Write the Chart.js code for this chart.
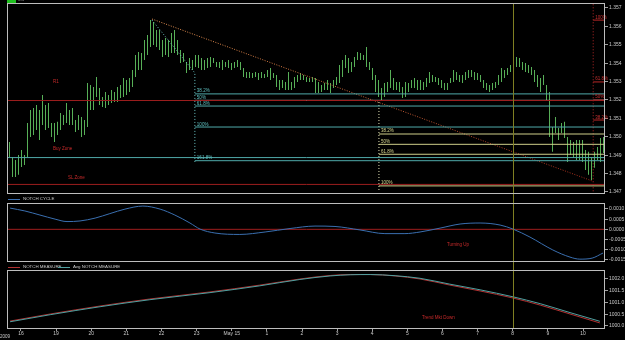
<!DOCTYPE html>
<html><head><meta charset="utf-8">
<script src="https://cdn.jsdelivr.net/npm/chart.js@4.4.0/dist/chart.umd.min.js"></script>
<style>
html,body{margin:0;padding:0;background:#000;}
#wrap{position:relative;width:625px;height:340px;overflow:hidden;background:#000;font-family:"Liberation Sans",Arial,sans-serif;}
canvas{position:absolute;left:0;}
.t{position:absolute;white-space:nowrap;line-height:1;}
.lg{font-size:4.4px;color:#c8c8c8;}
.rd{font-size:4.5px;color:#c82a2a;}
.sw{position:absolute;height:1px;width:12px;}
</style></head><body>
<div id="wrap">
<canvas id="c1" width="625" height="196" style="top:0;width:625px;height:196px"></canvas>
<canvas id="c2" width="625" height="70" style="top:196px;width:625px;height:70px"></canvas>
<canvas id="c3" width="625" height="74" style="top:266px;width:625px;height:74px"></canvas>
<div style="position:absolute;left:7px;top:0;width:9px;height:3px;background:#1fc01f"></div>
<div class="t lg" style="left:18px;top:-2px;color:#909090">M5</div>
<div class="t rd" style="left:53px;top:80px">R1</div>
<div class="t rd" style="left:53px;top:146.5px">Buy Zone</div>
<div class="t rd" style="left:68px;top:175.5px">SL Zone</div>
<div class="sw" style="left:8px;top:199px;background:#3a6fb0"></div>
<div class="t lg" style="left:23px;top:197px">NOTCH CYCLE</div>
<div class="t rd" style="left:447px;top:243px">Turning Up</div>
<div class="sw" style="left:8px;top:267px;background:#b03030"></div>
<div class="t lg" style="left:23px;top:265px">NOTCH MEASURE</div>
<div class="sw" style="left:58px;top:267px;background:#4fa0a0"></div>
<div class="t lg" style="left:73px;top:265px">Avg NOTCH MEASURE</div>
<div class="t rd" style="left:422px;top:315.5px">Trend Mkt Down</div>
<div class="t lg" style="left:0;top:335px;font-size:4.5px">2009</div>
</div>
<script>
// ---------- DATA ----------
const hourLabels = ["16","19","20","21","22","23","May 15","1","2","3","4","5","6","7","8","9","10"];
const priceTicks = [1.357,1.356,1.355,1.354,1.353,1.352,1.351,1.350,1.349,1.348,1.347];
const cycleTicks = [0.0010,0.0005,0.0000,-0.0005,-0.0010,-0.0015];
const measureTicks = [1002.0,1001.5,1001.0,1000.5,1000.0];

const barStartHour = -0.32740;
const barStepHour = 0.0854093;
const highs = [
1.34972,1.34890,1.34874,1.34901,1.34928,1.34901,1.35075,1.35146,1.35157,1.35173,
1.35146,1.35227,1.35173,1.35184,1.35075,1.35075,1.35081,1.35129,1.35119,1.35184,
1.35146,1.35157,1.35091,1.35119,1.35108,1.35091,1.35292,1.35281,1.35271,1.35325,
1.35265,1.35216,1.35243,1.35227,1.35254,1.35243,1.35271,1.35281,1.35319,1.35309,
1.35319,1.35363,1.35444,1.35461,1.35455,1.35526,1.35553,1.35634,1.35624,1.35580,
1.35580,1.35526,1.35537,1.35526,1.35564,1.35580,1.35526,1.35472,1.35455,1.35406,
1.35428,1.35417,1.35444,1.35444,1.35428,1.35417,1.35428,1.35433,1.35428,1.35406,
1.35406,1.35417,1.35406,1.35417,1.35401,1.35406,1.35417,1.35406,1.35374,1.35352,
1.35352,1.35347,1.35352,1.35347,1.35352,1.35341,1.35363,1.35374,1.35347,1.35336,
1.35309,1.35309,1.35298,1.35352,1.35298,1.35325,1.35336,1.35347,1.35336,1.35325,
1.35319,1.35325,1.35319,1.35298,1.35281,1.35292,1.35309,1.35292,1.35309,1.35325,
1.35390,1.35417,1.35444,1.35428,1.35406,1.35433,1.35461,1.35455,1.35444,1.35488,
1.35406,1.35374,1.35336,1.35309,1.35265,1.35292,1.35298,1.35363,1.35319,1.35298,
1.35298,1.35271,1.35298,1.35292,1.35309,1.35319,1.35309,1.35309,1.35298,1.35319,
1.35352,1.35336,1.35325,1.35319,1.35309,1.35292,1.35292,1.35319,1.35363,1.35352,
1.35336,1.35336,1.35352,1.35363,1.35363,1.35352,1.35347,1.35336,1.35309,1.35292,
1.35281,1.35292,1.35298,1.35336,1.35374,1.35363,1.35374,1.35390,1.35406,1.35433,
1.35428,1.35406,1.35401,1.35390,1.35379,1.35363,1.35336,1.35319,1.35336,1.35281,
1.35243,1.35053,1.35108,1.35048,1.35075,1.35081,1.34999,1.34983,1.34972,1.34983,
1.34983,1.34983,1.34928,1.34918,1.34890,1.34918,1.34945,1.34994,1.34999];
const lows = [
1.34890,1.34782,1.34782,1.34793,1.34836,1.34847,1.34890,1.34999,1.35010,1.35037,
1.34983,1.35064,1.35037,1.35048,1.34999,1.34972,1.35010,1.35037,1.35064,1.35075,
1.35064,1.35064,1.35026,1.35037,1.34999,1.35010,1.35053,1.35146,1.35146,1.35216,
1.35173,1.35162,1.35157,1.35173,1.35184,1.35189,1.35189,1.35211,1.35216,1.35227,
1.35243,1.35271,1.35325,1.35363,1.35363,1.35417,1.35444,1.35488,1.35499,1.35488,
1.35472,1.35433,1.35444,1.35433,1.35455,1.35455,1.35444,1.35401,1.35406,1.35347,
1.35363,1.35363,1.35379,1.35374,1.35363,1.35363,1.35374,1.35379,1.35401,1.35379,
1.35374,1.35363,1.35379,1.35374,1.35363,1.35374,1.35379,1.35363,1.35325,1.35319,
1.35319,1.35319,1.35325,1.35309,1.35319,1.35319,1.35325,1.35309,1.35319,1.35271,
1.35254,1.35265,1.35254,1.35254,1.35254,1.35265,1.35298,1.35309,1.35309,1.35298,
1.35298,1.35298,1.35238,1.35238,1.35243,1.35254,1.35254,1.35238,1.35265,1.35281,
1.35292,1.35325,1.35374,1.35347,1.35352,1.35379,1.35417,1.35417,1.35417,1.35379,
1.35363,1.35309,1.35243,1.35216,1.35200,1.35216,1.35243,1.35265,1.35254,1.35254,
1.35243,1.35211,1.35216,1.35243,1.35265,1.35265,1.35254,1.35254,1.35254,1.35271,
1.35292,1.35298,1.35298,1.35281,1.35265,1.35254,1.35254,1.35292,1.35298,1.35309,
1.35298,1.35292,1.35309,1.35319,1.35325,1.35309,1.35309,1.35298,1.35265,1.35254,
1.35243,1.35254,1.35265,1.35281,1.35298,1.35319,1.35336,1.35352,1.35352,1.35379,
1.35379,1.35363,1.35352,1.35347,1.35336,1.35298,1.35271,1.35243,1.35281,1.35200,
1.34999,1.34918,1.35021,1.34983,1.35021,1.34994,1.34863,1.34901,1.34885,1.34874,
1.34874,1.34863,1.34820,1.34793,1.34765,1.34831,1.34874,1.34863,1.34912];

const zoneLevels = [1.35197, 1.34887, 1.34741];           // R1 line, buy line, stop line
const fib1Levels = [1.35233, 1.35198, 1.35167, 1.35053, 1.34870];
const fib1Labels = ["38.2%","50%","61.8%","100%","161.8%"];
const fib1StartHour = 4.95;
const fib2Levels = [1.35015, 1.34959, 1.34905, 1.34733];
const fib2Labels = ["38.2%","50%","61.8%","100%"];
const fib2StartHour = 10.19;
const fib3Levels = [1.35634, 1.35298, 1.35200, 1.35091];
const fib3Labels = ["100%","61.8%","50%","38.2%"];
const fib3StartHour = 16.29;
const trendHours = [3.73, 16.26];
const trendPrices = [1.35640, 1.34760];
const fib1AnchorHours = [3.73, 4.95, 4.95];
const fib1AnchorPrices = [1.35634, 1.35347, 1.34863];
const fib2AnchorPrices = [1.35189, 1.34700];
const markerHour = 14;

const cycleHours = [-0.31,0.11,0.54,0.97,1.31,1.68,2.11,2.53,2.96,3.47,3.96,4.38,4.81,5.10,5.52,6.23,6.95,7.66,8.37,8.94,9.65,10.36,10.93,11.36,11.93,12.50,13.07,13.64,14.01,14.49,15.14,15.63,15.91,16.26,16.57];
const cycleValues = [0.00104,0.00090,0.00070,0.00050,0.00038,0.00041,0.00055,0.00077,0.00099,0.00114,0.00099,0.00070,0.00031,0.00001,-0.00018,-0.00025,-0.00013,0.00004,0.00016,0.00014,-0.00003,-0.00021,-0.00021,-0.00013,0.00006,0.00026,0.00031,0.00021,0.00001,-0.00038,-0.00101,-0.00136,-0.00146,-0.00141,-0.00116];

const measureHours = [-0.31,0.83,2.25,3.67,5.38,6.80,7.94,8.80,9.37,9.94,10.65,11.36,12.21,13.07,14.01,14.78,15.63,16.48];
const measureValues = [1000.21,1000.51,1000.85,1001.15,1001.45,1001.74,1002.00,1002.15,1002.19,1002.19,1002.13,1002.00,1001.74,1001.49,1001.19,1000.89,1000.51,1000.13];
const avgMeasureValues = [1000.18,1000.48,1000.82,1001.12,1001.42,1001.71,1001.98,1002.13,1002.18,1002.19,1002.14,1002.03,1001.78,1001.54,1001.24,1000.95,1000.57,1000.20];

// ---------- CHART SETUP ----------
const X_MIN = -0.37, X_MAX = 16.626;
const FONT = {size: 5, family: '"Liberation Sans", Arial, sans-serif'};

function yAxis(ticks, fmt, min, max) {
  return {
    position: 'right', min, max,
    afterBuildTicks: ax => { ax.ticks = ticks.map(v => ({value: v})); },
    afterFit: ax => { ax.width = 20; ax.paddingTop = 0; ax.paddingBottom = 0; },
    ticks: {color: '#c8c8c8', font: FONT, padding: 1, autoSkip: false, callback: v => fmt(v)},
    grid: {display: true, drawOnChartArea: false, tickLength: 3, color: '#a0a0a0'},
    border: {display: false}
  };
}
function hiddenX() {
  return {type: 'linear', min: X_MIN, max: X_MAX, display: false, offset: false, grid: {offset: false}};
}
function seg(xs, ys, color, dash, width) {
  return {type: 'line', data: xs.map((x, i) => ({x, y: ys[i]})), borderColor: color,
    borderWidth: width || 1, borderDash: dash || [], pointRadius: 0, fill: false, tension: 0, order: 1};
}

const framePlugin = {
  id: 'frame',
  afterDraw(chart) {
    const a = chart.chartArea, c = chart.ctx;
    c.save(); c.strokeStyle = '#bdbdbd'; c.lineWidth = 1;
    c.strokeRect(Math.round(a.left) - 0.5, Math.round(a.top) + 0.5, Math.round(a.right - a.left), Math.round(a.bottom - a.top) - 1);
    c.restore();
  }
};
function markerPlugin(fromTop, toBottom) {
  return {
    id: 'marker',
    afterDatasetsDraw(chart) {
      const x = Math.round(chart.scales.x.getPixelForValue(markerHour)) + 0.5;
      const c = chart.ctx, a = chart.chartArea;
      c.save(); c.strokeStyle = '#7f7f22'; c.lineWidth = 1;
      c.beginPath(); c.moveTo(x, fromTop ? 0 : a.top); c.lineTo(x, toBottom ? chart.height : a.bottom); c.stroke();
      c.restore();
    }
  };
}
const fibLabelPlugin = {
  id: 'fibLabels',
  afterDatasetsDraw(chart) {
    const c = chart.ctx, xs = chart.scales.x, ys = chart.scales.y;
    c.save(); c.font = '4.5px "Liberation Sans", Arial, sans-serif'; c.textBaseline = 'bottom';
    const put = (levels, labels, start, color) => {
      c.fillStyle = color;
      levels.forEach((lv, i) => c.fillText(labels[i], xs.getPixelForValue(start) + 2, ys.getPixelForValue(lv) - 0.5));
    };
    put(fib1Levels, fib1Labels, fib1StartHour, '#5fc0c0');
    put(fib2Levels, fib2Labels, fib2StartHour, '#d8d890');
    put(fib3Levels, fib3Labels, fib3StartHour, '#c83030');
    c.restore();
  }
};

// ---------- PRICE PANEL ----------
const bars = highs.map((h, i) => ({x: barStartHour + i * barStepHour, y: [lows[i], h]}));
const ds1 = [];
ds1.push({type: 'bar', data: bars, backgroundColor: '#58b058', barThickness: 1, borderWidth: 0,
  inflateAmount: 0, borderSkipped: false, order: 2});
const zoneColors = ['#9c1e1e', '#4fa8a8', '#9c1e1e'];
zoneLevels.forEach((lv, i) => ds1.push(seg([X_MIN, X_MAX], [lv, lv], zoneColors[i])));
const fib1Colors = ['#4faaaa', '#c8d4d4', '#4faaaa', '#4faaaa', '#4faaaa'];
fib1Levels.forEach((lv, i) => ds1.push(seg([fib1StartHour, X_MAX], [lv, lv], fib1Colors[i])));
fib2Levels.forEach(lv => ds1.push(seg([fib2StartHour, X_MAX], [lv, lv], '#cfcf8a')));
fib3Levels.forEach(lv => ds1.push(seg([fib3StartHour, X_MAX], [lv, lv], '#b82828')));
ds1.push(seg([fib3StartHour, fib3StartHour], [1.3572, 1.3469], '#b82828', [1, 2]));
ds1.push(seg(fib1AnchorHours, fib1AnchorPrices, '#6cc4c4', [1, 2]));
ds1.push(seg([fib2StartHour, fib2StartHour], fib2AnchorPrices, '#e4e4b8', [1, 2]));
const trend = seg(trendHours, trendPrices, '#c86a40', [1, 1.5]);
trend.borderColor = ctx => {
  const a = ctx.chart.chartArea;
  if (!a) return '#c86a40';
  const g = ctx.chart.ctx.createLinearGradient(a.left, 0, a.right, 0);
  g.addColorStop(0, '#f0a868'); g.addColorStop(0.35, '#d88448'); g.addColorStop(1, '#a02818');
  return g;
};
ds1.push(trend);

new Chart(document.getElementById('c1'), {
  type: 'bar',
  data: {datasets: ds1},
  options: {
    responsive: false, animation: false, events: [],
    layout: {padding: {left: 8, top: 3, right: 0, bottom: 2}},
    plugins: {legend: {display: false}, tooltip: {enabled: false}},
    scales: {
      x: hiddenX(),
      y: yAxis(priceTicks, v => v.toFixed(3), 1.34689, 1.35727)
    }
  },
  plugins: [framePlugin, markerPlugin(false, true), fibLabelPlugin]
});

// ---------- CYCLE PANEL ----------
new Chart(document.getElementById('c2'), {
  type: 'line',
  data: {datasets: [
    seg([X_MIN, X_MAX], [0, 0], '#a01e1e'),
    {type: 'line', data: cycleHours.map((h, i) => ({x: h, y: cycleValues[i]})), borderColor: '#3a6fb0',
      borderWidth: 1, pointRadius: 0, fill: false, tension: 0.4, cubicInterpolationMode: 'monotone'}
  ]},
  options: {
    responsive: false, animation: false, events: [],
    layout: {padding: {left: 8, top: 7, right: 0, bottom: 4}},
    plugins: {legend: {display: false}, tooltip: {enabled: false}},
    scales: {
      x: hiddenX(),
      y: yAxis(cycleTicks, v => v.toFixed(4), -0.0016, 0.00129)
    }
  },
  plugins: [framePlugin, markerPlugin(true, true)]
});

// ---------- MEASURE PANEL ----------
new Chart(document.getElementById('c3'), {
  type: 'line',
  data: {datasets: [
    {data: measureHours.map((h, i) => ({x: h, y: avgMeasureValues[i]})), borderColor: '#4fa0a0',
      borderWidth: 1, pointRadius: 0, fill: false, tension: 0.4, cubicInterpolationMode: 'monotone'},
    {data: measureHours.map((h, i) => ({x: h, y: measureValues[i]})), borderColor: '#b03030',
      borderWidth: 1, pointRadius: 0, fill: false, tension: 0.4, cubicInterpolationMode: 'monotone'}
  ]},
  options: {
    responsive: false, animation: false, events: [],
    layout: {padding: {left: 8, top: 4, right: 0, bottom: 0}},
    plugins: {legend: {display: false}, tooltip: {enabled: false}},
    scales: {
      x: {type: 'linear', min: X_MIN, max: X_MAX, offset: false,
        afterBuildTicks: ax => { ax.ticks = hourLabels.map((_, i) => ({value: i})); },
        afterFit: ax => { ax.height = 11; ax.paddingLeft = 0; ax.paddingRight = 0; },
        ticks: {color: '#c8c8c8', font: FONT, padding: 0, maxRotation: 0, autoSkip: false,
          callback: v => hourLabels[Math.round(v)]},
        grid: {display: true, drawOnChartArea: false, tickLength: 2, color: '#a0a0a0'},
        border: {display: false}},
      y: yAxis(measureTicks, v => v.toFixed(1), 999.872, 1002.383)
    }
  },
  plugins: [framePlugin, markerPlugin(true, false)]
});
</script>
</body></html>
